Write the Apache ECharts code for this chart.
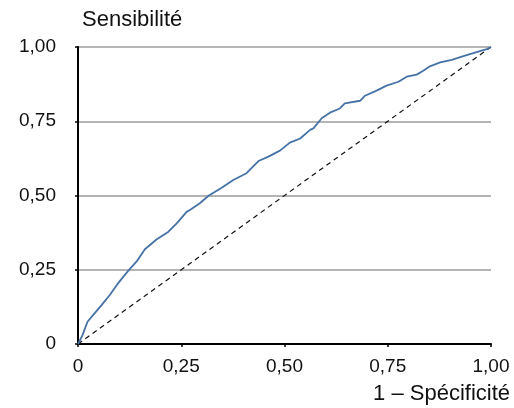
<!DOCTYPE html>
<html>
<head>
<meta charset="utf-8">
<script src="https://cdn.jsdelivr.net/npm/echarts@6/dist/echarts.min.js"></script>
<style>
  html, body { margin: 0; padding: 0; background: #fff; }
  #chart { width: 514px; height: 408px; }
</style>
</head>
<body>
<div id="chart"></div>
<script>
// ROC curve: false positive rate (1 - specificity) vs. true positive rate (sensitivity)
const fpr = [0, 0.011, 0.023, 0.037, 0.057, 0.077, 0.094, 0.110, 0.122, 0.142, 0.162,
  0.190, 0.219, 0.239, 0.263, 0.271, 0.295, 0.316, 0.348, 0.376, 0.408, 0.437, 0.461,
  0.489, 0.513, 0.538, 0.562, 0.570, 0.590, 0.610, 0.634, 0.646, 0.683, 0.695, 0.723,
  0.747, 0.776, 0.796, 0.820, 0.836, 0.852, 0.877, 0.905, 0.933, 0.965, 0.990, 1.0];
const tpr = [0, 0.030, 0.075, 0.098, 0.131, 0.165, 0.199, 0.227, 0.247, 0.278, 0.319,
  0.352, 0.378, 0.406, 0.445, 0.451, 0.474, 0.499, 0.526, 0.552, 0.575, 0.616, 0.631,
  0.651, 0.678, 0.692, 0.721, 0.726, 0.760, 0.779, 0.793, 0.810, 0.819, 0.836, 0.853,
  0.870, 0.883, 0.900, 0.907, 0.920, 0.935, 0.948, 0.957, 0.969, 0.983, 0.993, 1.0];

// Reference line of a random classifier
const chanceX = [0, 1];
const chanceY = [0, 1];

const xAxisName = '1 – Spécificité';
const yAxisName = 'Sensibilité';

const fmt = v => (v === 0 ? '0' : v.toFixed(2).replace('.', ','));
const font = '"Liberation Sans", Arial, Helvetica, sans-serif';

const chart = echarts.init(document.getElementById('chart'), null, { renderer: 'canvas' });
chart.setOption({
  animation: false,
  backgroundColor: '#ffffff',
  textStyle: { fontFamily: font },
  grid: { left: 78, right: 23, top: 47, bottom: 64 },
  xAxis: {
    type: 'value', min: 0, max: 1, interval: 0.25,
    name: xAxisName, nameLocation: 'end', nameGap: 19,
    nameTextStyle: { fontSize: 22, color: '#111', align: 'right', verticalAlign: 'top', padding: [39, 0, 0, 0], fontFamily: font },
    axisLine: { onZero: false, lineStyle: { color: '#000', width: 2 } },
    axisTick: { show: true, inside: false, length: 3, lineStyle: { color: '#000', width: 1.5 } },
    axisLabel: { formatter: fmt, fontSize: 19, color: '#111', margin: 13, fontFamily: font },
    splitLine: { show: false }
  },
  yAxis: {
    type: 'value', min: 0, max: 1, interval: 0.25,
    name: yAxisName, nameLocation: 'end', nameGap: 16,
    nameTextStyle: { fontSize: 22, color: '#111', align: 'left', padding: [0, 0, 0, 4], fontFamily: font },
    axisLine: { show: true, lineStyle: { color: '#000', width: 2 } },
    axisTick: { show: true, length: 3, lineStyle: { color: '#000', width: 1.5 } },
    axisLabel: { formatter: fmt, fontSize: 19, color: '#111', margin: 22, padding: [5, 0, 0, 0], fontFamily: font },
    splitLine: { show: true, lineStyle: { color: '#b4b4b4', width: 2 } }
  },
  series: [
    {
      name: 'chance', type: 'line',
      data: chanceX.map((x, i) => [x, chanceY[i]]),
      showSymbol: false, silent: true, z: 2,
      lineStyle: { color: '#111', width: 1.2, type: [5, 4] }
    },
    {
      name: 'ROC', type: 'line',
      data: fpr.map((x, i) => [x, tpr[i]]),
      showSymbol: false, z: 3,
      lineStyle: { color: '#4672a6', width: 1.8 }
    }
  ]
});
</script>
</body>
</html>
